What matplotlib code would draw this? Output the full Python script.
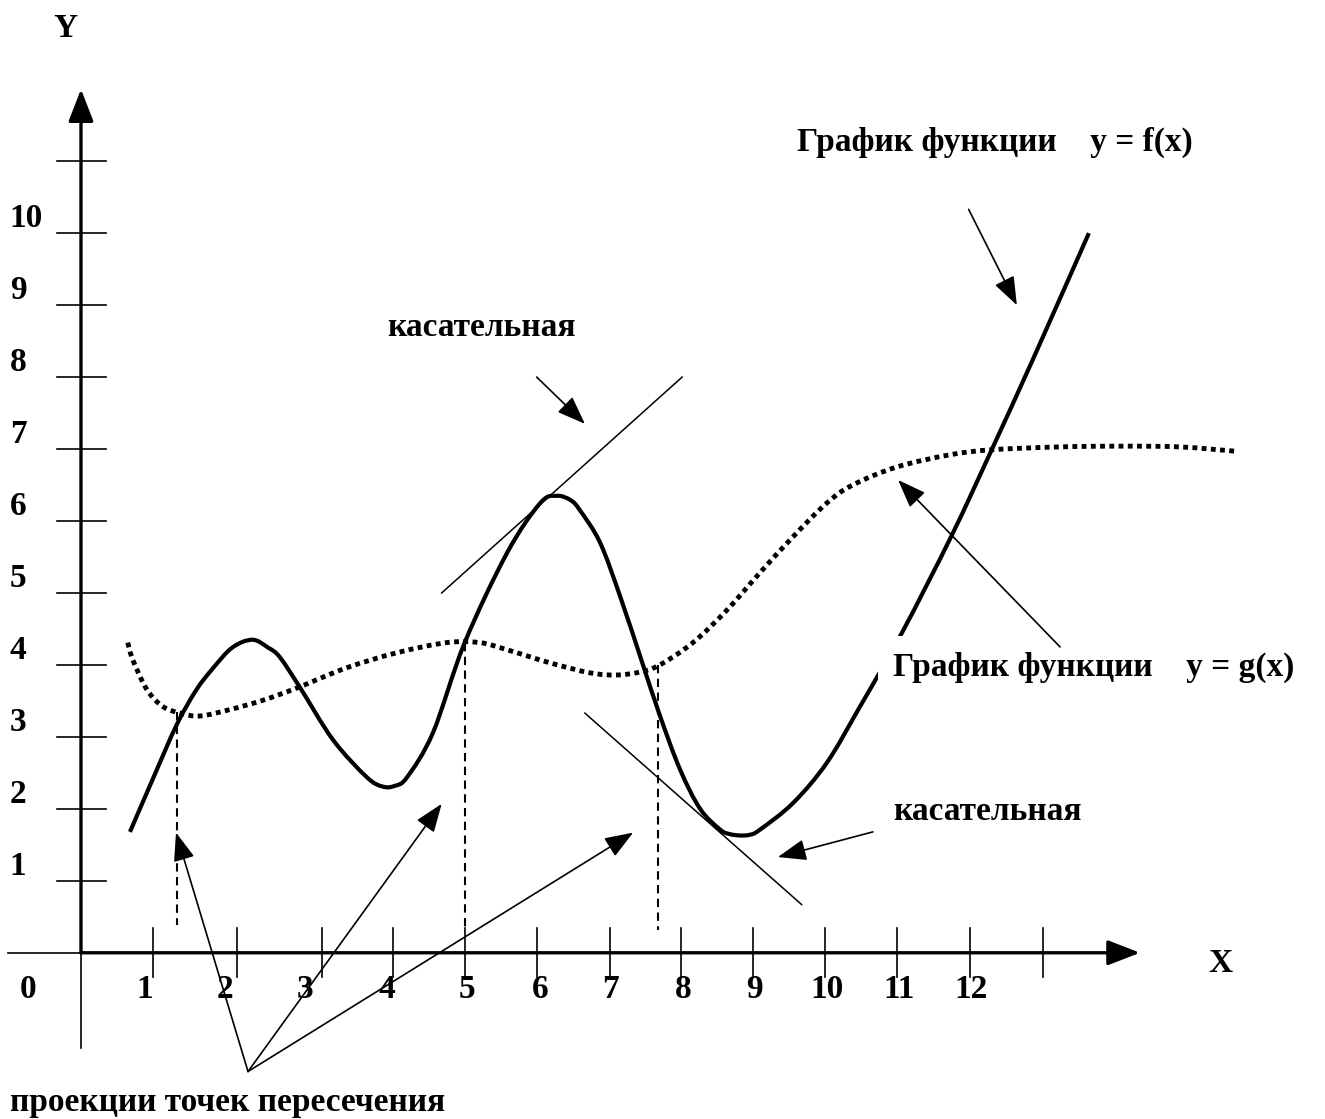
import matplotlib
matplotlib.use("Agg")
import matplotlib.pyplot as plt
from matplotlib.path import Path
from matplotlib.patches import PathPatch

#config
plt.rcParams['font.family'] = ['Liberation Serif', 'DejaVu Serif']
plt.rcParams['font.weight'] = 'bold'
font_size = 24

# curve f(x), solid
f_x = [0.68, 1.00, 1.33, 1.60, 1.83, 2.10, 2.38, 2.60, 2.76, 3.04, 3.50, 3.97, 4.19, 4.36, 4.53,
       4.89, 5.33, 5.92, 6.38, 6.61, 6.80, 6.93, 7.21, 7.49, 7.80, 8.04, 8.32, 8.60, 8.88,
       9.01, 9.15, 9.29, 9.43, 9.89, 10.36, 10.82, 11.40, 12.10, 12.65, 13.22, 14.0]
f_y = [1.68, 2.42, 3.17, 3.65, 3.95, 4.24, 4.35, 4.24, 4.11, 3.69, 2.96, 2.44, 2.31, 2.32, 2.44,
       3.06, 4.31, 5.56, 6.25, 6.35, 6.29, 6.15, 5.70, 4.95, 4.02, 3.30, 2.55, 2.00, 1.71,
       1.65, 1.63, 1.64, 1.71, 2.08, 2.64, 3.42, 4.44, 5.81, 6.99, 8.24, 10.0]

# curve g(x), dotted
g_x = [0.65, 0.72, 0.92, 1.14, 1.38, 1.65, 2.07, 2.53, 3.00, 3.69, 4.39, 5.08, 5.54, 5.92, 6.51,
       7.07, 7.44, 7.76, 8.04, 8.50, 8.97, 9.43, 9.89, 10.36, 10.72, 11.33, 12.07, 12.65, 13.60,
       14.43, 15.26, 16.03]
g_y = [4.31, 4.07, 3.65, 3.42, 3.33, 3.29, 3.38, 3.51, 3.68, 3.96, 4.17, 4.31, 4.31, 4.21, 4.03,
       3.89, 3.86, 3.90, 4.00, 4.31, 4.76, 5.28, 5.78, 6.25, 6.50, 6.75, 6.92, 6.99, 7.03,
       7.04, 7.03, 6.97]

# tangents
tan1_x = [5.01, 8.35]
tan1_y = [5.0, 8.0]
tan2_x = [7.0, 10.01]
tan2_y = [3.33, 0.67]

# projections of intersection points
proj_x = [1.33, 5.33, 8.01]
proj_top = [3.35, 4.31, 4.0]
proj_bottom = [0.39, 0.3, 0.32]

# axis ticks and labels
x_ticks = [1.0, 2.17, 3.35, 4.33, 5.33, 6.33, 7.35, 8.33, 9.33, 10.33, 11.33, 12.35, 13.36]
x_label_pos = [0.89, 2.0, 3.11, 4.25, 5.36, 6.375, 7.35, 8.36, 9.35, 10.36, 11.36, 12.36]
x_labels = ['1', '2', '3', '4', '5', '6', '7', '8', '9', '10', '11', '12']
y_ticks = [1, 2, 3, 4, 5, 6, 7, 8, 9, 10, 11]
y_labels = ['1', '2', '3', '4', '5', '6', '7', '8', '9', '10']

# arrows: (tail, head)
arrows = [((6.33, 8.0), (7.0, 7.35)),
          ((12.33, 10.33), (13.0, 9.0)),
          ((13.6, 4.25), (11.35, 6.57)),
          ((11.0, 1.68), (9.68, 1.33)),
          ((2.32, -1.65), (1.32, 1.67)),
          ((2.32, -1.65), (5.01, 2.07)),
          ((2.32, -1.65), (7.67, 1.67))]


def smooth_path(xs, ys, k=1.0 / 6):
    # catmull-rom through the read points, as cubic bezier segments
    pts = list(zip(xs, ys))
    verts = [pts[0]]
    codes = [Path.MOVETO]
    for i in range(len(pts) - 1):
        p0 = pts[max(i - 1, 0)]
        p1 = pts[i]
        p2 = pts[i + 1]
        p3 = pts[min(i + 2, len(pts) - 1)]
        c1 = (p1[0] + (p2[0] - p0[0]) * k, p1[1] + (p2[1] - p0[1]) * k)
        c2 = (p2[0] - (p3[0] - p1[0]) * k, p2[1] - (p3[1] - p1[1]) * k)
        verts += [c1, c2, p2]
        codes += [Path.CURVE4] * 3
    return Path(verts, codes)


fig = plt.figure(figsize=(13.25, 11.19), dpi=100)
ax = fig.add_axes([0, 0, 1, 1])
ax.set_xlim(-1.125, 17.28)
ax.set_ylim(-2.31, 13.24)
ax.axis('off')

# axes
ax.plot([-1.01, 0], [0, 0], color='black', lw=1.2)
ax.annotate('', xy=(14.71, 0), xytext=(0, 0),
            arrowprops=dict(arrowstyle='-|>,head_length=0.9,head_width=0.35', lw=2.4,
                            color='black', mutation_scale=22, shrinkA=0, shrinkB=0))
ax.annotate('', xy=(0, 12.0), xytext=(0, 0),
            arrowprops=dict(arrowstyle='-|>,head_length=0.9,head_width=0.35', lw=2.4,
                            color='black', mutation_scale=22, shrinkA=0, shrinkB=0))
ax.plot([0, 0], [0, -1.32], color='black', lw=1.2)

for t in x_ticks:
    ax.plot([t, t], [0.35, -0.33], color='black', lw=1.2)
for t in y_ticks:
    ax.plot([-0.33, 0.35], [t, t], color='black', lw=1.2)

for pos, lab in zip(x_label_pos, x_labels):
    ax.text(pos, -0.51, lab, fontsize=font_size, ha='center', va='center')
for i, lab in enumerate(y_labels):
    ax.text(-0.99, y_ticks[i] + 0.2, lab, fontsize=font_size, ha='left', va='center')
ax.text(-0.74, -0.51, '0', fontsize=font_size, ha='center', va='center')
ax.text(-0.22, 12.85, 'Y', fontsize=font_size, ha='center', va='center')
ax.text(15.83, -0.15, 'X', fontsize=font_size, ha='center', va='center')

# curves
ax.add_patch(PathPatch(smooth_path(f_x, f_y), facecolor='none', edgecolor='black', lw=3.0,
                       capstyle='butt', zorder=2))
ax.add_patch(PathPatch(smooth_path(g_x, g_y), facecolor='none', edgecolor='black', lw=3.5,
                       linestyle=(0, (1, 0.9)), capstyle='butt', zorder=2))
ax.plot(tan1_x, tan1_y, color='black', lw=1.1)
ax.plot(tan2_x, tan2_y, color='black', lw=1.1)
for px, top, bot in zip(proj_x, proj_top, proj_bottom):
    ax.plot([px, px], [top, bot], color='black', lw=1.5, linestyle=(0, (4, 2.6)))

for tail, head in arrows:
    ax.annotate('', xy=head, xytext=tail, zorder=4,
                arrowprops=dict(arrowstyle='-|>,head_length=0.8,head_width=0.3', lw=1.2,
                                color='black', mutation_scale=22, shrinkA=0, shrinkB=0))

# captions
ax.text(9.94, 11.26, 'График функции    y = f(x)', fontsize=font_size, ha='left', va='center')
ax.text(4.25, 8.69, 'касательная', fontsize=font_size, ha='left', va='center')
ax.text(11.28, 3.97, 'График функции    y = g(x)', fontsize=font_size, ha='left', va='center',
        zorder=3, bbox=dict(boxstyle='square,pad=0.45', facecolor='white', edgecolor='none'))
ax.text(11.28, 1.96, 'касательная', fontsize=font_size, ha='left', va='center')
ax.text(-0.99, -2.08, 'проекции точек пересечения', fontsize=font_size, ha='left', va='center')

plt.savefig('out.png', dpi=100)
